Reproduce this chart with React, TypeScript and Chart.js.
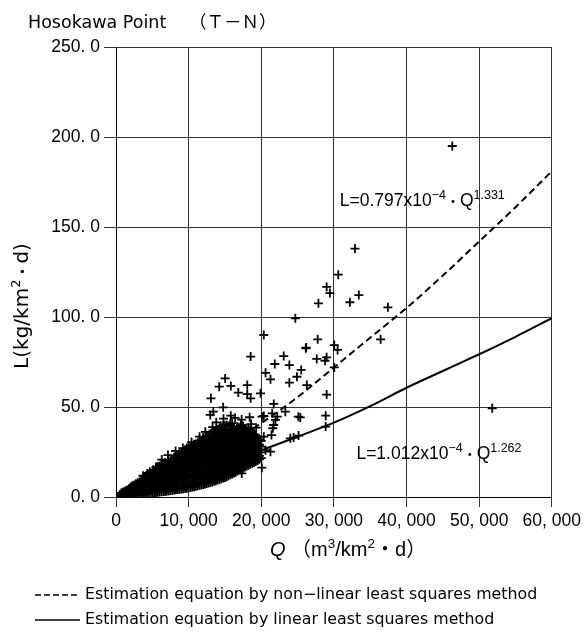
import React, { useEffect, useRef } from 'react';
import { Chart, registerables } from 'chart.js';

Chart.register(...registerables);

// ---------- data ----------
const chartTitleMain = 'Hosokawa Point';
const chartTitleSub = '（Ｔ－Ｎ）';
const xTickLabels = ['0', '10, 000', '20, 000', '30, 000', '40, 000', '50, 000', '60, 000'];
const yTickLabels = ['0. 0', '50. 0', '100. 0', '150. 0', '200. 0', '250. 0'];
const legendLabels = [
  'Estimation equation by non−linear least squares method',
  'Estimation equation by linear least squares method',
];
const eqNonLinear = { base: 'L=0.797x10', exp1: '−4', exp2: '1.331' };
const eqLinear = { base: 'L=1.012x10', exp1: '−4', exp2: '1.262' };

// fitted curves
const curveQ = [0, 2500, 5000, 10000, 15000, 20000, 25000, 30000, 35000, 40000, 45000, 50000, 55000, 60000];
const nonLinearL = [0, 2.7, 6.7, 16.5, 28.5, 41, 55.5, 72, 88.5, 105, 123, 142, 161, 181];
const linearL = [0, 2, 4.8, 11, 18.5, 26, 33.5, 41.3, 50.5, 60.7, 70, 79.3, 89, 99.3];

// isolated observations [Q, L]
const isolatedPoints: [number, number][] = [
  [46300, 195], [51800, 49.3], [32900, 138], [30600, 123.5], [29000, 116.7], [29450, 113.3],
  [27870, 107.6], [32200, 108.2], [33430, 112.2], [37430, 105.4], [24690, 99.3], [20350, 90],
  [27770, 87.6], [26130, 82.6], [30050, 84.4], [30510, 81.7], [27640, 76.7], [29000, 77.6],
  [28780, 75.7], [36430, 87.6], [25500, 70.6], [30050, 72], [26270, 62.2], [29000, 56.9],
  [25370, 44.2], [28870, 45.2], [28870, 39.1], [25140, 34.1], [26190, 83], [18540, 78],
  [23090, 78.3], [21860, 73.9], [23870, 73.3], [20590, 69], [21270, 65.4], [24910, 66.8],
  [23870, 63.5], [15030, 65.9], [14210, 61.3], [15810, 61.7], [16840, 58], [18070, 62.2],
  [18070, 57.2], [18540, 54.8], [19900, 57.6], [13070, 54.8], [13390, 47.4], [12980, 45.6],
  [14750, 49.8], [21720, 51.7], [23310, 47.4], [20350, 45], [21950, 42.8], [21590, 38.2],
  [18400, 44.3], [24450, 33], [14440, 39.4], [15570, 39.4], [17170, 40], [17850, 38.2],
  [14210, 35.4], [19220, 34.4], [20350, 33.5], [7150, 23.3], [20080, 16.3], [17310, 13.1],
  [5560, 16.8], [4650, 14], [3730, 11.8], [24000, 32.6], [21270, 25.2], [20590, 26],
  [21500, 46.5], [22200, 44.6], [21700, 40], [20100, 44.6], [19200, 33.5], [18500, 28],
  [21400, 34.4], [25100, 44.6], [11500, 33.5], [12300, 36.2], [13300, 38.8], [13800, 41.5],
  [14800, 43.5], [15800, 45.2], [16400, 44], [17300, 43], [18600, 40.5], [19300, 38.5],
  [10400, 30.5], [9200, 27.2], [8200, 25.6], [6300, 20.8], [5100, 15], [4300, 13.1],
];

// dense cloud of observations, listed column by column: [Q, L values]
const denseColumnsA: [number, number[]][] = [
  [500, [0.3, 1.2]],
  [1000, [0.4, 1.6, 2.8]],
  [1500, [0.6, 2.1, 3.8]],
  [2000, [0.8, 2.5, 4.3, 5.6]],
  [2500, [1, 3, 5, 6.6]],
  [3000, [1.2, 3.5, 5.8, 7.9]],
  [3500, [1.4, 4, 6.5, 9]],
  [4000, [1.7, 4.3, 6.9, 9.4, 11.4]],
  [4500, [2, 4.6, 7.3, 10, 12.4]],
  [5000, [2.2, 4.9, 7.6, 10.4, 13.2]],
  [5500, [2.5, 5.2, 8.1, 11, 13.9, 16.3]],
  [6000, [2.8, 5.6, 8.6, 11.5, 14.5, 17.2]],
  [6500, [3, 6, 9.1, 12.1, 15.1, 18]],
  [7000, [3.3, 6.4, 9.6, 12.6, 15.6, 18.6]],
  [7500, [3.6, 6.8, 10, 13.1, 16.2, 19.2]],
  [8000, [3.9, 7.2, 10.5, 13.6, 16.7, 19.8, 22.1]],
  [8500, [4.2, 7.6, 11, 14.1, 17.2, 20.3, 23]],
  [9000, [4.5, 8, 11.4, 14.6, 17.7, 20.8, 23.7]],
  [9500, [4.8, 8.3, 11.9, 15.1, 18.2, 21.3, 24.3, 26.2]],
  [10000, [5.1, 8.7, 12.3, 15.6, 18.7, 21.8, 24.8, 27.2]],
  [10500, [5.5, 9.1, 12.7, 16.1, 19.2, 22.3, 25.4, 28.3]],
  [11000, [6, 9.6, 13.1, 16.6, 19.7, 22.8, 25.9, 29.4]],
  [11500, [6.5, 10.1, 13.6, 17.1, 20.2, 23.3, 26.5, 30.1]],
  [12000, [7, 10.6, 14.1, 17.6, 20.7, 23.9, 27, 30.3, 33]],
  [12500, [7.5, 11.1, 14.6, 18.1, 21.3, 24.5, 27.7, 31, 34]],
  [13000, [8.1, 11.6, 15.1, 18.6, 21.8, 25.1, 28.3, 31.8, 35.2]],
  [13500, [8.7, 12.2, 15.7, 19.1, 22.4, 25.7, 29, 32.6, 36.4]],
  [14000, [9.4, 12.9, 16.3, 19.7, 23, 26.3, 29.7, 33.4, 37.5]],
  [14500, [10.1, 13.6, 17, 20.3, 23.6, 27, 30.5, 34.3, 38.2]],
  [15000, [10.9, 14.4, 17.8, 21, 24.3, 27.7, 31.3, 35.1, 39.6]],
  [15500, [11.8, 15.3, 18.6, 21.8, 25.1, 28.5, 32.1, 35.8]],
  [16000, [12.8, 16.2, 19.5, 22.6, 25.9, 29.3, 33, 36.7, 41]],
  [16500, [13.8, 17.2, 20.4, 23.5, 26.8, 30.2, 33.8, 37.4]],
  [17000, [15, 18.3, 21.4, 24.5, 27.7, 31.1, 34.6, 38.5]],
  [17500, [16.1, 19.3, 22.4, 25.5, 28.7, 32, 35.5, 39.3]],
  [18000, [17.2, 20.4, 23.5, 26.6, 29.7, 32.9, 36.3]],
  [18500, [18.2, 21.4, 24.5, 27.6, 30.7, 33.8, 37.1]],
  [19000, [19.2, 22.4, 25.5, 28.6, 31.7, 34.8]],
  [19500, [20.3, 23.5, 26.6, 29.7, 32.8]],
  [20000, [21.6, 24.8, 28, 31.2]],
];
const denseColumnsB: [number, number[]][] = [
  [750, [0.5, 1.5, 2.3]],
  [1250, [0.5, 1.3, 2.5, 3.4]],
  [1750, [0.7, 1.6, 3, 4.6]],
  [2250, [0.9, 1.8, 3.6, 5.6, 6.2]],
  [2750, [1.1, 2.3, 4.3, 6.3, 7.3]],
  [3250, [1.3, 2.6, 4.7, 7, 8.4]],
  [3750, [1.5, 2.9, 5.4, 7.8, 10.2]],
  [4250, [1.8, 3.2, 5.8, 8.4, 11, 12]],
  [4750, [2.1, 3.5, 6.1, 8.8, 11.6, 13]],
  [5250, [2.3, 3.8, 6.4, 9.3, 12.2, 14.6]],
  [5750, [2.6, 4.1, 6.9, 9.8, 12.7, 15.5, 16.8]],
  [6250, [2.9, 4.4, 7.3, 10.3, 13.3, 16.2, 18.2]],
  [6750, [3.1, 4.7, 7.8, 10.9, 13.9, 16.9, 19.2]],
  [7250, [3.4, 5, 8.2, 11.3, 14.4, 17.4, 20]],
  [7750, [3.7, 5.3, 8.6, 11.8, 14.9, 18, 20.6]],
  [8250, [4, 5.6, 9, 12.3, 15.4, 18.5, 21.2, 23]],
  [8750, [4.3, 6, 9.4, 12.7, 15.9, 19, 22, 24.2]],
  [9250, [4.6, 6.4, 9.8, 13.2, 16.4, 19.5, 22.5, 25]],
  [9750, [4.9, 6.8, 10.3, 13.7, 16.9, 20, 23, 25.7, 27.2]],
  [10250, [5.3, 7.1, 10.7, 14.2, 17.4, 20.5, 23.6, 26.6, 28.5]],
  [10750, [5.7, 7.5, 11.2, 14.7, 17.9, 21, 24.1, 27.2, 29.3]],
  [11250, [6.2, 8, 11.6, 15.1, 18.4, 21.5, 24.6, 27.7, 30.2]],
  [11750, [6.7, 8.5, 12.1, 15.6, 18.9, 22, 25.2, 28.3, 31.4]],
  [12250, [7.2, 9, 12.6, 16.1, 19.4, 22.6, 25.7, 29, 32]],
  [12750, [7.8, 9.5, 13.1, 16.6, 19.9, 23.2, 26.3, 29.6, 33.2]],
  [13250, [8.4, 10.1, 13.6, 17.1, 20.5, 23.8, 26.9, 30.2, 33.8, 36.5]],
  [13750, [9, 10.7, 14.2, 17.7, 21.1, 24.4, 27.6, 30.9, 34.7, 37]],
  [14250, [9.7, 11.4, 14.8, 18.3, 21.7, 25, 28.3, 31.6, 35.4, 38.4]],
  [14750, [10.5, 12.2, 15.6, 19, 22.3, 25.6, 28.9, 32.3, 36.2, 39.5]],
  [15250, [11.3, 13.1, 16.5, 19.8, 23, 26.3, 29.6, 33, 36.9, 40]],
  [15750, [12.3, 14, 17.4, 20.6, 23.8, 27.1, 30.4, 33.8, 37.4, 40.5]],
  [16250, [13.3, 15, 18.4, 21.5, 24.7, 28, 31.3, 34.7, 38.2]],
  [16750, [14.4, 16.1, 19.4, 22.5, 25.6, 28.9, 32.2, 35.5, 39]],
  [17250, [15.5, 17.2, 20.4, 23.5, 26.6, 29.9, 33.2, 36.4, 39.8]],
  [17750, [16.6, 18.4, 21.5, 24.5, 27.6, 30.8, 34.1, 37.3]],
  [18250, [17.7, 19.4, 22.5, 25.6, 28.6, 31.8, 35, 38]],
  [18750, [18.7, 20.4, 23.5, 26.6, 29.7, 32.8, 36]],
  [19250, [19.7, 21.5, 24.6, 27.6, 30.7, 33.8]],
  [19750, [21, 22.8, 26, 29, 32]],
];

// ---------- helpers ----------
const TICK_FONT = "'Liberation Sans', Arial, sans-serif";
const LABEL_FONT = "'DejaVu Sans', 'Noto Sans CJK JP', sans-serif";
const CJK_FONT = "'Noto Sans CJK JP', sans-serif";

type Run = { t: string; f: string; dy?: number };

function runsWidth(ctx: CanvasRenderingContext2D, runs: Run[]) {
  let w = 0;
  for (const r of runs) {
    ctx.font = r.f;
    w += ctx.measureText(r.t).width;
  }
  return w;
}

function drawRuns(ctx: CanvasRenderingContext2D, x: number, y: number, runs: Run[]) {
  let cx = x;
  for (const r of runs) {
    ctx.font = r.f;
    ctx.fillText(r.t, cx, y + (r.dy || 0));
    cx += ctx.measureText(r.t).width;
  }
}

function eqRuns(eq: { base: string; exp1: string; exp2: string }): Run[] {
  return [
    { t: eq.base, f: `17.5px ${TICK_FONT}` },
    { t: eq.exp1, f: `12.5px ${TICK_FONT}`, dy: -7 },
    { t: '・', f: `14px ${CJK_FONT}` },
    { t: 'Q', f: `17.5px ${TICK_FONT}` },
    { t: eq.exp2, f: `12.5px ${TICK_FONT}`, dy: -7 },
  ];
}

const textPlugin = {
  id: 'texts',
  afterDraw(chart: any) {
    const ctx: CanvasRenderingContext2D = chart.ctx;
    const xs = chart.scales.x;
    const ys = chart.scales.y;
    ctx.save();
    ctx.fillStyle = '#000';
    ctx.strokeStyle = '#000';
    ctx.textAlign = 'left';
    ctx.textBaseline = 'alphabetic';

    // chart title
    ctx.font = `17.5px ${LABEL_FONT}`;
    ctx.fillText(chartTitleMain, 28, 28);
    ctx.font = `17.5px ${CJK_FONT}`;
    ctx.fillText(chartTitleSub, 189, 28);

    // equations
    drawRuns(ctx, xs.getPixelForValue(30800), ys.getPixelForValue(161.7), eqRuns(eqNonLinear));
    drawRuns(ctx, xs.getPixelForValue(33100), ys.getPixelForValue(21.1), eqRuns(eqLinear));

    // x axis title
    const xRuns: Run[] = [
      { t: 'Q', f: `italic 20px ${TICK_FONT}` },
      { t: ' （m', f: `20px ${TICK_FONT}, 'Noto Sans CJK JP'` },
      { t: '3', f: `13.5px ${TICK_FONT}`, dy: -8 },
      { t: '/km', f: `20px ${TICK_FONT}` },
      { t: '2', f: `13.5px ${TICK_FONT}`, dy: -8 },
      { t: '・d）', f: `20px ${TICK_FONT}, 'Noto Sans CJK JP'` },
    ];
    drawRuns(ctx, 270, 556, xRuns);

    // y axis title (rotated)
    const yRuns: Run[] = [
      { t: 'L(kg/km', f: `20px ${LABEL_FONT}` },
      { t: '2', f: `13px ${LABEL_FONT}`, dy: -8 },
      { t: '・', f: `16px ${CJK_FONT}` },
      { t: 'd)', f: `20px ${LABEL_FONT}` },
    ];
    const yw = runsWidth(ctx, yRuns);
    ctx.save();
    ctx.translate(28, 306);
    ctx.rotate(-Math.PI / 2);
    drawRuns(ctx, -yw / 2, 0, yRuns);
    ctx.restore();

    // legend
    ctx.lineWidth = 1.5;
    ctx.setLineDash([6, 3]);
    ctx.beginPath();
    ctx.moveTo(35, 595);
    ctx.lineTo(80, 595);
    ctx.stroke();
    ctx.setLineDash([]);
    ctx.beginPath();
    ctx.moveTo(35, 620);
    ctx.lineTo(80, 620);
    ctx.stroke();
    ctx.font = `15.8px ${LABEL_FONT}`;
    ctx.textBaseline = 'middle';
    ctx.fillText(legendLabels[0], 85, 595);
    ctx.fillText(legendLabels[1], 85, 620);
    ctx.restore();
  },
};

export default function App() {
  const ref = useRef<HTMLCanvasElement | null>(null);

  useEffect(() => {
    if (!ref.current) return;
    const scatter: { x: number; y: number }[] = [];
    [...denseColumnsA, ...denseColumnsB].forEach(([q, ls]) => ls.forEach((l) => scatter.push({ x: q, y: l })));
    isolatedPoints.forEach(([q, l]) => scatter.push({ x: q, y: l }));

    const chart = new Chart(ref.current, {
      type: 'scatter',
      data: {
        datasets: [
          {
            type: 'line',
            label: legendLabels[0],
            data: curveQ.map((q, i) => ({ x: q, y: nonLinearL[i] })),
            borderColor: '#000',
            borderWidth: 2,
            borderDash: [7, 4],
            pointRadius: 0,
            cubicInterpolationMode: 'monotone',
            fill: false,
          } as any,
          {
            type: 'line',
            label: legendLabels[1],
            data: curveQ.map((q, i) => ({ x: q, y: linearL[i] })),
            borderColor: '#000',
            borderWidth: 2,
            pointRadius: 0,
            cubicInterpolationMode: 'monotone',
            fill: false,
          } as any,
          {
            type: 'scatter',
            label: 'observed',
            data: scatter,
            pointStyle: 'cross',
            pointRadius: 4.5,
            borderColor: '#000',
            backgroundColor: '#000',
            pointBorderWidth: 1.8,
            borderWidth: 1.8,
          } as any,
        ],
      },
      options: {
        responsive: false,
        animation: false,
        events: [],
        layout: { padding: { top: 47, right: 30, left: 0, bottom: 0 } },
        plugins: { legend: { display: false }, tooltip: { enabled: false } },
        scales: {
          x: {
            type: 'linear',
            min: 0,
            max: 60000,
            ticks: {
              stepSize: 10000,
              autoSkip: false,
              maxRotation: 0,
              padding: 4,
              color: '#000',
              font: { family: TICK_FONT, size: 17.5 },
              callback: (_v: any, i: number) => xTickLabels[i],
            },
            grid: { color: '#333', lineWidth: 1, tickLength: 10 },
            border: { color: '#000', width: 1 },
            afterFit: (s: any) => {
              s.height = 139;
            },
          },
          y: {
            type: 'linear',
            min: 0,
            max: 250,
            ticks: {
              stepSize: 50,
              padding: 4,
              color: '#000',
              font: { family: TICK_FONT, size: 17.5 },
              callback: (_v: any, i: number) => yTickLabels[i],
            },
            grid: { color: '#333', lineWidth: 1, tickLength: 12 },
            border: { color: '#000', width: 1 },
            afterFit: (s: any) => {
              s.width = 116;
            },
          },
        },
      } as any,
      plugins: [textPlugin],
    });
    return () => chart.destroy();
  }, []);

  return (
    <div style={{ position: 'fixed', left: 0, top: 0, width: 585, height: 636, background: '#fff' }}>
      <canvas ref={ref} width={585} height={636} style={{ display: 'block' }} />
    </div>
  );
}
